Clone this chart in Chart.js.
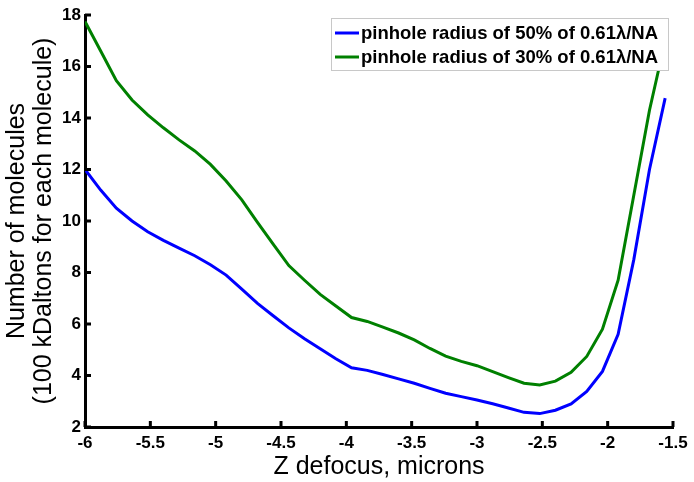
<!DOCTYPE html>
<html>
<head>
<meta charset="utf-8">
<script src="https://cdn.jsdelivr.net/npm/chart.js@4/dist/chart.umd.min.js"></script>
<style>
  html, body { margin: 0; padding: 0; background: #fff; }
  #wrap { width: 694px; height: 482px; }
</style>
</head>
<body>
<div id="wrap"><canvas id="c" width="694" height="482"></canvas></div>
<script>
// z defocus positions (microns), sampled every 0.12
const zDefocus = [-6.00, -5.88, -5.76, -5.64, -5.52, -5.40, -5.28, -5.16, -5.04, -4.92,
                  -4.80, -4.68, -4.56, -4.44, -4.32, -4.20, -4.08, -3.96, -3.84, -3.72,
                  -3.60, -3.48, -3.36, -3.24, -3.12, -3.00, -2.88, -2.76, -2.64, -2.52,
                  -2.40, -2.28, -2.16, -2.04, -1.92, -1.80, -1.68, -1.56];

// pinhole radius 50%
const pinhole50 = [12.0, 11.2, 10.5, 10.0, 9.58, 9.25, 8.95, 8.65, 8.3, 7.9,
                   7.35, 6.8, 6.32, 5.85, 5.43, 5.04, 4.65, 4.30, 4.20, 4.04,
                   3.87, 3.70, 3.50, 3.31, 3.18, 3.05, 2.90, 2.74, 2.57, 2.52,
                   2.65, 2.90, 3.38, 4.16, 5.6, 8.5, 12.0, 14.77];

// pinhole radius 30%
const pinhole30 = [17.75, 16.6, 15.45, 14.7, 14.12, 13.62, 13.15, 12.72, 12.2, 11.55,
                   10.82, 9.95, 9.1, 8.27, 7.70, 7.15, 6.7, 6.25, 6.10, 5.88,
                   5.65, 5.38, 5.05, 4.75, 4.55, 4.38, 4.15, 3.92, 3.70, 3.63,
                   3.78, 4.12, 4.74, 5.80, 7.7, 11.0, 14.3, 17.0];

const seriesLabels = ["pinhole radius of 50% of 0.61\u03bb/NA", "pinhole radius of 30% of 0.61\u03bb/NA"];
const seriesColors = ["#0000ff", "#008000"];

const xTicks = [-6, -5.5, -5, -4.5, -4, -3.5, -3, -2.5, -2, -1.5];
const yTicks = [2, 4, 6, 8, 10, 12, 14, 16, 18];

const FONT = "'Liberation Sans', Arial, sans-serif";

// short ticks pointing into the plot, matlab style
const innerTicks = {
  id: "innerTicks",
  afterDatasetsDraw(chart) {
    const ctx = chart.ctx;
    const { x, y } = chart.scales;
    ctx.save();
    ctx.strokeStyle = "#000";
    ctx.lineWidth = 3;
    ctx.beginPath();
    xTicks.forEach(v => {
      const px = x.getPixelForValue(v);
      ctx.moveTo(px, y.bottom);
      ctx.lineTo(px, y.bottom - 6);
    });
    yTicks.forEach(v => {
      const py = y.getPixelForValue(v);
      ctx.moveTo(x.left, py);
      ctx.lineTo(x.left + 6, py);
    });
    ctx.stroke();
    ctx.restore();
  }
};

// legend box inside the axes, top right
const boxLegend = {
  id: "boxLegend",
  afterDraw(chart) {
    const ctx = chart.ctx;
    const area = chart.chartArea;
    const boxW = 337, boxH = 52;
    const bx = area.right - boxW - 5, by = area.top + 3;
    ctx.save();
    ctx.fillStyle = "#fff";
    ctx.fillRect(bx, by, boxW, boxH);
    ctx.strokeStyle = "#c8c8c8";
    ctx.lineWidth = 1;
    ctx.strokeRect(bx + 0.5, by + 0.5, boxW, boxH);
    ctx.font = "bold 18.5px " + FONT;
    ctx.textBaseline = "middle";
    ctx.fillStyle = "#000";
    chart.data.datasets.forEach((ds, i) => {
      const ly = by + 15 + i * 24;
      ctx.strokeStyle = ds.borderColor;
      ctx.lineWidth = 3;
      ctx.beginPath();
      ctx.moveTo(bx + 4, ly);
      ctx.lineTo(bx + 28, ly);
      ctx.stroke();
      ctx.fillText(ds.label, bx + 30, ly + 1);
    });
    ctx.restore();
  }
};

new Chart(document.getElementById("c"), {
  type: "line",
  data: {
    datasets: [
      {
        label: seriesLabels[0],
        data: zDefocus.map((z, i) => ({ x: z, y: pinhole50[i] })),
        borderColor: seriesColors[0],
        borderWidth: 3,
        pointRadius: 0,
        tension: 0
      },
      {
        label: seriesLabels[1],
        data: zDefocus.map((z, i) => ({ x: z, y: pinhole30[i] })),
        borderColor: seriesColors[1],
        borderWidth: 3,
        pointRadius: 0,
        tension: 0
      }
    ]
  },
  options: {
    responsive: false,
    animation: false,
    layout: { padding: { top: 15, right: 21, left: 0, bottom: 0 } },
    plugins: {
      legend: { display: false },
      tooltip: { enabled: false }
    },
    scales: {
      x: {
        type: "linear",
        min: -6,
        max: -1.5,
        afterBuildTicks: axis => { axis.ticks = xTicks.map(v => ({ value: v })); },
        afterFit: axis => { axis.height = 55; },
        grid: { display: false, drawTicks: false },
        border: { display: true, color: "#000", width: 3 },
        ticks: {
          color: "#000",
          font: { family: FONT, size: 17, weight: "bold" },
          padding: 6,
          maxRotation: 0,
          autoSkip: false,
          callback: v => String(v)
        },
        title: {
          display: true,
          text: "Z defocus, microns",
          color: "#000",
          font: { family: FONT, size: 25 },
          padding: { top: 0, bottom: 0 }
        }
      },
      y: {
        type: "linear",
        min: 2,
        max: 18,
        afterBuildTicks: axis => { axis.ticks = yTicks.map(v => ({ value: v })); },
        afterFit: axis => { axis.width = 85; },
        grid: { display: false, drawTicks: false },
        border: { display: true, color: "#000", width: 3 },
        ticks: {
          color: "#000",
          font: { family: FONT, size: 17, weight: "bold" },
          padding: 4,
          autoSkip: false,
          callback: v => String(v)
        },
        title: {
          display: true,
          text: ["Number of molecules", "(100 kDaltons for each molecule)"],
          color: "#000",
          font: { family: FONT, size: 25, lineHeight: 1.08 },
          padding: { top: 4, bottom: 0 }
        }
      }
    }
  },
  plugins: [innerTicks, boxLegend]
});
</script>
</body>
</html>
